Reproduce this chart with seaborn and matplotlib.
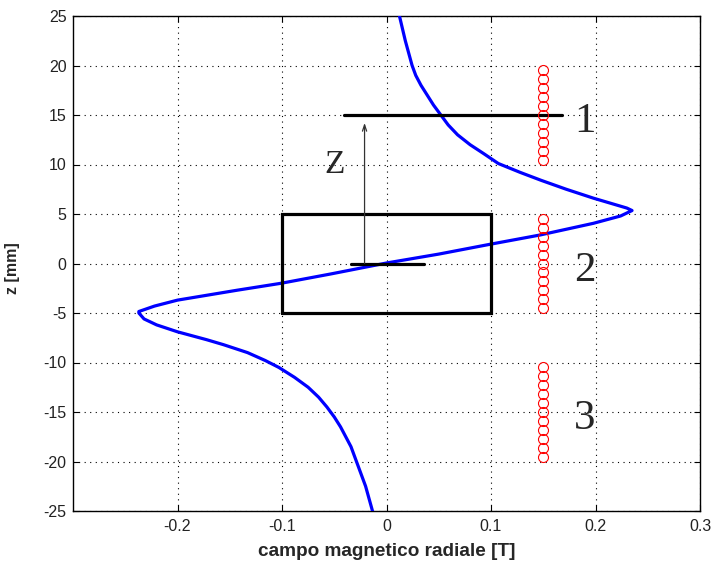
import matplotlib
matplotlib.use("Agg")
import matplotlib.pyplot as plt
import pandas as pd
import seaborn as sns

# Radial magnetic field along the axis of the magnet (z in mm, B in tesla)
z_mm = [-25, -22.5, -20.5, -18.5, -17.5, -16.5, -15.5, -14.5, -13.5, -12.5,
        -11.5, -10.5, -9.8, -9.0, -8.2, -7.7, -6.9, -6.2, -5.6, -5.0, -4.85,
        -4.3, -3.7, -2.7, -2.0, -1.06, 0.05, 0.95, 1.94, 2.88, 4.06, 4.8,
        5.35, 5.6, 6.6, 7.5, 8.4, 9.2, 10.1, 11.1, 12.0, 13.0, 14.0, 15.0,
        16.0, 17.0, 18.0, 19.0, 20.0, 22.5, 25]
b_radial = [-0.0134, -0.020, -0.027, -0.034, -0.039, -0.044, -0.050, -0.057,
            -0.065, -0.075, -0.088, -0.103, -0.116, -0.133, -0.156, -0.172,
            -0.200, -0.220, -0.232, -0.237, -0.237, -0.222, -0.200, -0.143,
            -0.101, -0.0535, 0.0, 0.050, 0.099, 0.147, 0.198, 0.224, 0.235,
            0.230, 0.198, 0.172, 0.148, 0.128, 0.107, 0.093, 0.080, 0.068,
            0.059, 0.052, 0.045, 0.039, 0.033, 0.028, 0.0245, 0.018, 0.0124]

# Sensor positions of the three probe groups
probe_b = 0.15
probe_z_1 = [10.5, 11.4, 12.3, 13.2, 14.1, 15.0, 15.9, 16.8, 17.7, 18.6, 19.5]
probe_z_2 = [-4.5, -3.6, -2.7, -1.8, -0.9, 0.0, 0.9, 1.8, 2.7, 3.6, 4.5]
probe_z_3 = [-19.5, -18.6, -17.7, -16.8, -15.9, -15.0, -14.1, -13.2, -12.3, -11.4, -10.5]

# Magnet outline and reference markers
magnet_b = [-0.1, 0.1, 0.1, -0.1, -0.1]
magnet_z = [-5, -5, 5, 5, -5]
sensor_line_b = [-0.041, 0.168]
sensor_line_z = 15
origin_line_b = [-0.034, 0.036]
arrow_b = -0.021
group_labels = ["1", "2", "3"]
group_label_z = [15, 0, -15]
group_label_b = 0.19

x_ticks = [-0.2, -0.1, 0, 0.1, 0.2, 0.3]
x_tick_labels = ["-0.2", "-0.1", "0", "0.1", "0.2", "0.3"]
y_ticks = [-25, -20, -15, -10, -5, 0, 5, 10, 15, 20, 25]

sns.set_style("ticks")
plt.rcParams["font.family"] = ["Liberation Sans", "DejaVu Sans"]
plt.rcParams["axes.unicode_minus"] = False

fig = plt.figure(figsize=(7.13, 5.62), dpi=100)
ax = fig.add_axes([73 / 713, 1 - 511 / 562, (700 - 73) / 713, (511 - 16) / 562])

field = pd.DataFrame({"B": b_radial, "z": z_mm})
sns.lineplot(data=field, x="B", y="z", sort=False, estimator=None,
             color="#0000ff", lw=2.3, ax=ax, zorder=3)

# magnet body and measurement lines
ax.plot(magnet_b, magnet_z, color="black", lw=2.3, zorder=4,
        solid_joinstyle="miter")
ax.plot(sensor_line_b, [sensor_line_z, sensor_line_z], color="black", lw=2.3, zorder=4)
ax.plot(origin_line_b, [0, 0], color="black", lw=2.3, zorder=4)
ax.annotate("", xy=(arrow_b, 14.2), xytext=(arrow_b, 0),
            arrowprops=dict(arrowstyle="->,head_length=0.45,head_width=0.15",
                            color="#333333", lw=0.9, shrinkA=0, shrinkB=0),
            zorder=5)

# probe groups
for zs in (probe_z_1, probe_z_2, probe_z_3):
    ax.plot([probe_b] * len(zs), zs, linestyle="none", marker="o",
            markersize=7.2, markerfacecolor="none", markeredgecolor="#ff0000",
            markeredgewidth=0.8, zorder=6)

serif = ["Liberation Serif", "DejaVu Serif"]
ax.text(-0.0497, 9.15, "Z", family=serif, fontsize=24, ha="center",
        va="baseline", zorder=7)
for lab, zl in zip(group_labels, group_label_z):
    ax.text(group_label_b, zl - 1.75, lab, family=serif, fontsize=31,
            ha="center", va="baseline", zorder=7)

ax.set_xlim(-0.3, 0.3)
ax.set_ylim(-25, 25)
ax.set_xticks(x_ticks)
ax.set_xticklabels(x_tick_labels)
ax.set_yticks(y_ticks)
ax.tick_params(direction="in", length=4.5, width=0.8, top=True, right=True,
               labelsize=11.5, labelcolor="#222222", color="black")
ax.tick_params(axis="y", pad=4.5)
ax.tick_params(axis="x", pad=6)
ax.grid(True, linestyle=(0, (1, 4)), color="black", lw=0.8)
for sp in ax.spines.values():
    sp.set_visible(True)
    sp.set_color("black")
    sp.set_linewidth(1.0)

ax.set_xlabel("campo magnetico radiale [T]", fontsize=13.7, fontweight="bold",
              labelpad=6)
ax.set_ylabel("z [mm]", fontsize=11.5, fontweight="bold")
ax.yaxis.set_label_coords(-0.085, 0.49)

fig.savefig("out.png", dpi=100)
